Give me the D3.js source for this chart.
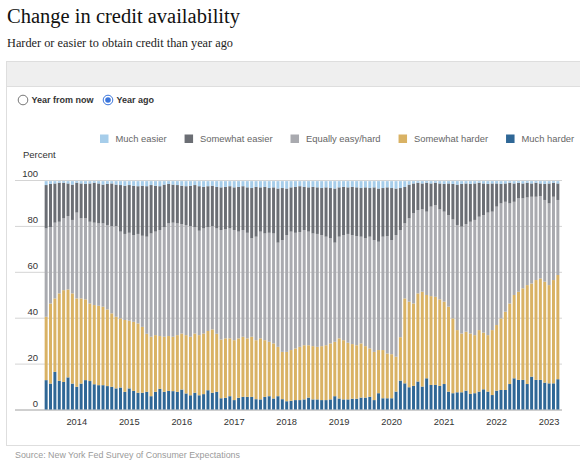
<!DOCTYPE html>
<html>
<head>
<meta charset="utf-8">
<script src="https://cdn.jsdelivr.net/npm/d3@7/dist/d3.min.js"></script>
<style>
  html, body { margin: 0; padding: 0; background: #fff; }
  svg { display: block; }
</style>
</head>
<body>
<div id="chart"></div>
<script>
// ─── Data (percent of respondents) ───
// monthly, Jun 2013 – Mar 2023
const months = d3.timeMonth.range(new Date(2013, 5, 1), new Date(2023, 3, 1));
const yearTicks = ['2014', '2015', '2016', '2017', '2018', '2019', '2020', '2021', '2022', '2023'];
const yTicks = [0, 20, 40, 60, 80, 100];

const seriesNames = ['Much harder', 'Somewhat harder', 'Equally easy/hard', 'Somewhat easier', 'Much easier'];
const legendOrder = ['Much easier', 'Somewhat easier', 'Equally easy/hard', 'Somewhat harder', 'Much harder'];

const muchHarder = [
  12.8, 11.3, 16.4, 12.5, 12.0, 14.0, 11.3, 9.9, 11.3, 12.8,
  12.4, 11.0, 10.6, 10.6, 10.2, 9.9, 9.2, 9.6, 7.7, 9.2,
  8.1, 7.3, 7.3, 7.7, 5.8, 7.7, 9.0, 7.7, 8.1, 8.0,
  7.7, 8.7, 7.0, 6.2, 7.3, 6.2, 6.7, 8.4, 7.3, 7.7,
  4.9, 5.1, 5.8, 4.1, 5.1, 5.5, 5.5, 5.5, 4.5, 4.4,
  5.5, 5.8, 4.8, 5.8, 4.5, 3.6, 3.8, 4.1, 4.1, 4.4,
  5.2, 4.4, 4.4, 4.1, 4.1, 4.4, 5.8, 4.8, 4.4, 4.4,
  4.7, 4.7, 5.2, 5.2, 5.5, 4.1, 7.1, 4.9, 4.9, 4.9,
  7.8, 12.6, 11.4, 9.7, 10.3, 12.2, 10.0, 13.6, 10.7, 10.7,
  10.3, 11.1, 7.8, 7.1, 7.5, 7.5, 8.2, 6.8, 7.1, 7.8,
  8.8, 7.8, 6.3, 8.2, 8.5, 8.5, 11.1, 13.6, 12.9, 12.9,
  11.1, 14.3, 12.9, 12.9, 11.7, 11.4, 11.4, 13.2
];
const somewhatHarder = [
  27.6, 34.9, 32.0, 38.1, 40.0, 38.3, 39.3, 38.5, 37.1, 35.2,
  33.8, 34.5, 34.6, 34.2, 33.4, 32.0, 31.2, 30.1, 31.3, 29.5,
  30.1, 30.2, 28.7, 25.3, 25.9, 24.7, 23.0, 24.0, 23.9, 23.7,
  24.7, 24.4, 25.4, 25.5, 25.8, 26.2, 26.4, 25.8, 27.6, 25.3,
  25.6, 25.9, 25.2, 26.1, 25.9, 26.2, 25.5, 26.2, 25.7, 26.6,
  24.7, 23.7, 24.0, 21.5, 20.6, 21.5, 22.1, 22.5, 23.2, 23.6,
  22.8, 23.2, 22.9, 23.5, 23.9, 24.4, 23.7, 26.2, 25.8, 24.7,
  23.8, 23.3, 23.6, 22.4, 21.1, 21.0, 18.8, 21.0, 19.5, 19.2,
  15.2, 18.9, 37.0, 37.3, 35.9, 38.4, 41.3, 36.3, 38.7, 38.4,
  37.7, 35.9, 37.0, 32.6, 27.1, 25.6, 25.7, 26.3, 25.3, 26.8,
  24.7, 24.6, 28.3, 28.6, 31.2, 34.1, 35.1, 36.3, 38.4, 39.9,
  43.1, 40.6, 43.5, 44.2, 44.0, 42.8, 45.0, 45.4
];
const equallyEasy = [
  38.5, 33.2, 33.0, 31.2, 31.3, 32.0, 32.0, 37.4, 34.9, 35.3,
  35.6, 35.9, 35.9, 36.3, 36.8, 38.0, 39.5, 37.8, 37.5, 38.3,
  37.8, 39.0, 39.7, 42.3, 45.0, 45.1, 46.2, 47.7, 49.1, 49.7,
  48.7, 47.7, 48.0, 48.2, 46.3, 45.5, 45.8, 45.2, 45.0, 45.9,
  47.7, 47.5, 47.9, 48.0, 46.5, 46.5, 46.0, 42.9, 45.1, 46.5,
  46.5, 47.5, 47.9, 45.4, 48.7, 50.9, 51.6, 50.4, 50.0, 50.2,
  49.5, 49.1, 49.2, 48.4, 47.3, 45.8, 43.2, 44.3, 45.8, 47.4,
  47.5, 47.6, 46.5, 47.0, 48.7, 48.7, 47.2, 49.4, 51.2, 49.7,
  53.0, 46.7, 32.7, 36.3, 39.3, 36.3, 35.9, 36.3, 39.0, 40.0,
  39.2, 39.2, 39.9, 43.1, 45.8, 46.6, 46.9, 48.7, 50.2, 49.4,
  51.2, 53.4, 51.6, 51.6, 50.1, 47.9, 43.6, 40.6, 40.7, 39.2,
  38.2, 37.8, 36.3, 35.9, 35.6, 35.6, 36.3, 32.7
];
const somewhatEasier = [
  18.9, 18.9, 17.1, 17.0, 15.5, 14.2, 15.4, 13.0, 15.2, 15.0,
  16.7, 17.4, 17.4, 16.9, 17.9, 18.6, 18.1, 20.3, 21.0, 20.8,
  21.5, 20.8, 21.8, 22.0, 21.1, 20.0, 19.1, 18.6, 17.2, 16.6,
  16.7, 16.7, 16.9, 17.6, 18.4, 19.4, 18.1, 17.9, 17.6, 18.1,
  18.6, 18.5, 18.4, 18.6, 19.5, 19.1, 19.8, 21.9, 21.7, 19.3,
  20.3, 19.5, 20.1, 23.6, 22.7, 20.3, 19.3, 20.0, 20.0, 18.8,
  19.3, 20.3, 20.3, 20.5, 21.5, 21.9, 23.6, 21.5, 21.0, 20.3,
  21.0, 21.2, 21.2, 22.2, 21.2, 23.0, 23.2, 21.2, 21.2, 22.7,
  20.3, 18.3, 15.9, 14.7, 13.0, 11.9, 11.3, 12.6, 10.1, 9.7,
  11.3, 12.1, 13.8, 15.5, 17.6, 18.6, 17.7, 16.5, 15.9, 14.8,
  13.8, 12.5, 12.3, 10.1, 8.5, 8.0, 9.0, 8.0, 6.8, 6.5,
  6.4, 5.8, 6.1, 5.5, 7.0, 8.7, 6.1, 7.2
];
const muchEasier = [
  1.7, 1.2, 1.0, 0.7, 0.7, 1.0, 1.5, 0.7, 1.0, 1.2,
  1.0, 0.7, 1.0, 1.5, 1.2, 1.0, 1.5, 1.7, 2.0, 1.7,
  2.0, 2.2, 2.0, 2.2, 1.7, 2.0, 2.2, 1.5, 1.2, 1.5,
  1.7, 2.0, 2.2, 2.0, 1.7, 2.2, 2.5, 2.2, 2.0, 2.5,
  2.7, 2.5, 2.2, 2.7, 2.5, 2.2, 2.7, 3.0, 2.5, 2.7,
  2.5, 3.0, 2.7, 3.2, 3.0, 3.2, 2.7, 2.5, 2.2, 2.5,
  2.7, 2.5, 2.7, 3.0, 2.7, 3.0, 3.2, 2.7, 2.5, 2.7,
  2.5, 2.7, 3.0, 2.7, 3.0, 2.7, 3.2, 3.0, 2.7, 3.0,
  3.2, 3.0, 2.5, 1.5, 1.0, 0.7, 1.0, 0.7, 1.0, 0.7,
  1.0, 1.2, 1.0, 1.2, 1.5, 1.2, 1.0, 1.2, 1.0, 0.7,
  1.0, 1.2, 1.0, 1.0, 1.2, 1.0, 0.7, 1.0, 0.7, 1.0,
  0.7, 1.0, 0.7, 1.0, 1.2, 1.0, 0.7, 1.0
];

const seriesValues = [muchHarder, somewhatHarder, equallyEasy, somewhatEasier, muchEasier];
const colors = {
  'Much easier': '#a6cdea',
  'Somewhat easier': '#6b6e74',
  'Equally easy/hard': '#a9aaaf',
  'Somewhat harder': '#d9b264',
  'Much harder': '#2f6796'
};

// ─── Build ───
const W = 580, H = 460;
const SANS = '"Liberation Sans", Arial, sans-serif';
const SERIF = '"Liberation Serif", Georgia, serif';
const fmtKey = d3.timeFormat('%Y-%m');

const rows = months.map((m, i) => {
  const r = { key: fmtKey(m) };
  seriesNames.forEach((s, j) => { r[s] = seriesValues[j][i]; });
  return r;
});

const svg = d3.select('#chart').append('svg')
  .attr('width', W).attr('height', H)
  .attr('viewBox', `0 0 ${W} ${H}`);

// titles
svg.append('text')
  .attr('x', 7).attr('y', 23)
  .attr('font-family', SERIF).attr('font-size', 20).attr('fill', '#111')
  .attr('textLength', 233).attr('lengthAdjust', 'spacingAndGlyphs')
  .text('Change in credit availability');
svg.append('text')
  .attr('x', 7).attr('y', 47)
  .attr('font-family', SERIF).attr('font-size', 12.5).attr('fill', '#222')
  .attr('textLength', 226).attr('lengthAdjust', 'spacingAndGlyphs')
  .text('Harder or easier to obtain credit than year ago');

// panel
svg.append('rect')
  .attr('x', 6.5).attr('y', 61.5).attr('width', 580).attr('height', 384)
  .attr('fill', '#fff').attr('stroke', '#dedede');
svg.append('rect')
  .attr('x', 6.5).attr('y', 61.5).attr('width', 580).attr('height', 25)
  .attr('fill', '#efefef').attr('stroke', '#dedede');

// radio buttons
const radios = [
  { label: 'Year from now', cx: 23, on: false },
  { label: 'Year ago', cx: 108, on: true }
];
radios.forEach(r => {
  svg.append('circle').attr('cx', r.cx).attr('cy', 100).attr('r', 4.8)
    .attr('fill', '#fff').attr('stroke', r.on ? '#3b76dc' : '#777').attr('stroke-width', 1);
  if (r.on) svg.append('circle').attr('cx', r.cx).attr('cy', 100).attr('r', 2.8).attr('fill', '#3b76dc');
  svg.append('text').attr('x', r.cx + 8.5).attr('y', 103.3)
    .attr('font-family', SANS).attr('font-size', 9).attr('font-weight', 'bold').attr('fill', '#333')
    .text(r.label);
});

// legend
let lx = 100;
legendOrder.forEach(name => {
  svg.append('rect').attr('x', lx).attr('y', 134.5).attr('width', 8.5).attr('height', 8.5)
    .attr('fill', colors[name]);
  const t = svg.append('text').attr('x', lx + 15.5).attr('y', 142)
    .attr('font-family', SANS).attr('font-size', 9.4).attr('fill', '#666')
    .text(name);
  lx += 15.5 + t.node().getComputedTextLength() + 18;
});

svg.append('text').attr('x', 23).attr('y', 158)
  .attr('font-family', SANS).attr('font-size', 9.5).attr('fill', '#333')
  .text('Percent');

// scales
const x = d3.scaleBand()
  .domain(rows.map(d => d.key))
  .range([44, 560])
  .paddingInner(0.32)
  .paddingOuter(0.15);
const y = d3.scaleLinear().domain([0, 100]).range([409.5, 180]);

// grid + y labels
const yAxis = svg.append('g')
  .attr('transform', 'translate(562,0)')
  .call(d3.axisLeft(y).tickValues(yTicks).tickSize(547).tickFormat(d3.format('d')));
yAxis.select('.domain').remove();
yAxis.selectAll('.tick line')
  .attr('stroke', d => d === 0 ? '#a0a0a0' : '#d4d4d4');
yAxis.selectAll('.tick text')
  .attr('x', 38 - 562).attr('dy', -3.5)
  .attr('font-family', SANS).attr('font-size', 9.5).attr('fill', '#333');

// bars
const stacked = d3.stack().keys(seriesNames)(rows);
svg.append('g')
  .selectAll('g')
  .data(stacked)
  .join('g')
  .attr('fill', d => colors[d.key])
  .selectAll('rect')
  .data(d => d)
  .join('rect')
  .attr('x', d => x(d.data.key))
  .attr('width', x.bandwidth())
  .attr('y', d => y(d[1]))
  .attr('height', d => y(d[0]) - y(d[1]));

// x axis (January of each year)
const janKeys = yearTicks.map(yr => yr + '-01');
const xAxis = svg.append('g')
  .attr('transform', 'translate(0,409.5)')
  .call(d3.axisBottom(x).tickValues(janKeys).tickSize(0).tickPadding(9).tickFormat(k => k.slice(0, 4)));
xAxis.select('.domain').remove();
xAxis.selectAll('.tick text')
  .attr('font-family', SANS).attr('font-size', 9.3).attr('fill', '#333');

// source
svg.append('text').attr('x', 15).attr('y', 458)
  .attr('font-family', SANS).attr('font-size', 8.8).attr('fill', '#9a9a9a')
  .attr('textLength', 225).attr('lengthAdjust', 'spacingAndGlyphs')
  .text('Source: New York Fed Survey of Consumer Expectations');
</script>
</body>
</html>
